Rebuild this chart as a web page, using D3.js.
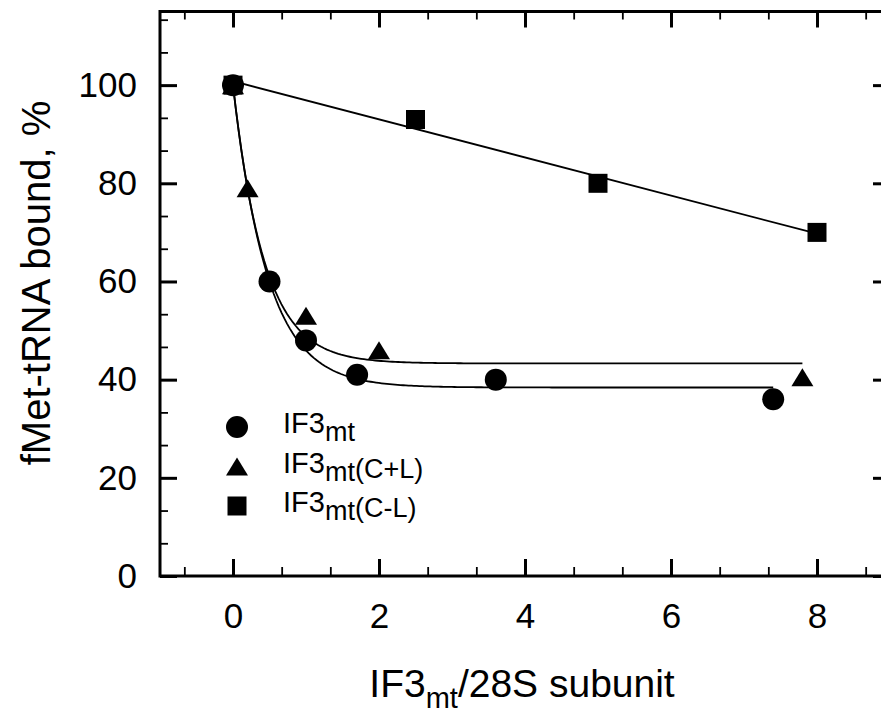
<!DOCTYPE html>
<html>
<head>
<meta charset="utf-8">
<script src="https://cdn.jsdelivr.net/npm/d3@7"></script>
<style>
    body { margin: 0; background: #fff; }
    svg { display: block; font-family: "Liberation Sans", Arial, sans-serif; }
</style>
</head>
<body>
<svg id="chart" width="881" height="713"></svg>
<script>
"use strict";
// data
const seriesNames = ["IF3mt", "IF3mt(C+L)", "IF3mt(C-L)"];
const circleX = [0, 0.5, 1, 1.7, 3.6, 7.4];
const circleY = [100, 60, 48, 41, 40, 36];
const triangleX = [0, 0.2, 1, 2, 7.8];
const triangleY = [100, 79, 53, 46, 40.5];
const squareX = [0, 2.5, 5, 8];
const squareY = [100, 93, 80, 70];
const xTicks = [0, 2, 4, 6, 8];
const yTicks = [0, 20, 40, 60, 80, 100];
// exponential decay fits  y = plateau + amp*exp(-rate*x)
const circleFit = { plateau: 38.4, amp: 61.6, rate: 2.1 };
const triangleFit = { plateau: 43.3, amp: 56.7, rate: 2.33 };

const svg = d3.select("#chart");
const x = d3.scaleLinear().domain([-1, 9]).range([160, 890]);
const y = d3.scaleLinear().domain([0, 115]).range([576, 11.5]);

const xMinor = d3.range(-1, 14).filter(i => i % 3 != 0).map(i => i * 2 / 3);
const yMinor = d3.range(1, 18).filter(i => i % 3 != 0).map(i => i * 20 / 3);

function styleTicks(g, width) {
    g.select(".domain").remove();
    g.selectAll(".tick line").attr("stroke", "#000").attr("stroke-width", width);
}

// major ticks with labels
svg.append("g").attr("transform", `translate(0,${y(0)})`)
    .call(d3.axisBottom(x).tickValues(xTicks).tickSizeInner(-17).tickSizeOuter(0).tickPadding(27))
    .call(g => styleTicks(g, 3))
    .selectAll("text").attr("font-size", 35).attr("fill", "#000").attr("font-family", null);
svg.append("g").attr("transform", `translate(${x(-1)},0)`)
    .call(d3.axisLeft(y).tickValues(yTicks).tickSizeInner(-17).tickSizeOuter(0).tickPadding(23))
    .call(g => styleTicks(g, 3))
    .selectAll("text").attr("font-size", 35).attr("fill", "#000").attr("font-family", null);
svg.append("g").attr("transform", `translate(0,${y(115)})`)
    .call(d3.axisTop(x).tickValues(xTicks).tickSizeInner(-16).tickSizeOuter(0).tickFormat(""))
    .call(g => styleTicks(g, 3));
svg.append("g").attr("transform", `translate(${x(9)},0)`)
    .call(d3.axisRight(y).tickValues(yTicks).tickSizeInner(-17).tickSizeOuter(0).tickFormat(""))
    .call(g => styleTicks(g, 3));

// minor ticks
svg.append("g").attr("transform", `translate(0,${y(0)})`)
    .call(d3.axisBottom(x).tickValues(xMinor).tickSizeInner(-9).tickSizeOuter(0).tickFormat(""))
    .call(g => styleTicks(g, 1.8));
svg.append("g").attr("transform", `translate(0,${y(115)})`)
    .call(d3.axisTop(x).tickValues(xMinor).tickSizeInner(-8).tickSizeOuter(0).tickFormat(""))
    .call(g => styleTicks(g, 1.8));
svg.append("g").attr("transform", `translate(${x(-1)},0)`)
    .call(d3.axisLeft(y).tickValues(yMinor).tickSizeInner(-8).tickSizeOuter(0).tickFormat(""))
    .call(g => styleTicks(g, 1.8));
svg.append("g").attr("transform", `translate(${x(9)},0)`)
    .call(d3.axisRight(y).tickValues(yMinor).tickSizeInner(-8).tickSizeOuter(0).tickFormat(""))
    .call(g => styleTicks(g, 1.8));

// frame
svg.append("rect")
    .attr("x", x(-1)).attr("y", y(115))
    .attr("width", x(9) - x(-1)).attr("height", y(0) - y(115))
    .attr("fill", "none").attr("stroke", "#000").attr("stroke-width", 3);

// fit lines
const line = d3.line().x(d => x(d[0])).y(d => y(d[1]));
function decayCurve(fit, xMax) {
    return d3.range(0, 201).map(i => {
        const xv = xMax * i / 200;
        return [xv, fit.plateau + fit.amp * Math.exp(-fit.rate * xv)];
    });
}
// straight least-squares line through the squares
const mx = d3.mean(squareX), my = d3.mean(squareY);
const slope = d3.sum(squareX, (v, i) => (v - mx) * (squareY[i] - my)) / d3.sum(squareX, v => (v - mx) ** 2);
const icpt = my - slope * mx;
const fitLines = [
    decayCurve(circleFit, d3.max(circleX)),
    decayCurve(triangleFit, d3.max(triangleX)),
    [[0, icpt], [d3.max(squareX), icpt + slope * d3.max(squareX)]]
];
svg.append("g").selectAll("path").data(fitLines).join("path")
    .attr("d", line)
    .attr("fill", "none").attr("stroke", "#000").attr("stroke-width", 1.8);

// marker shapes
function marker(shape) {
    if (shape == 0) return "M-11,0A11,11 0 1,0 11,0A11,11 0 1,0 -11,0Z";
    if (shape == 1) return "M0,-9L11,9L-11,9Z";
    return "M-9.5,-9.5H9.5V9.5H-9.5Z";
}
const groups = [
    { shape: 0, xs: circleX, ys: circleY },
    { shape: 1, xs: triangleX, ys: triangleY },
    { shape: 2, xs: squareX, ys: squareY }
];
// draw squares first so the shared point at 0 looks like the original
[2, 1, 0].forEach(k => {
    const s = groups[k];
    svg.append("g").selectAll("path").data(s.xs).join("path")
        .attr("transform", (d, i) => `translate(${x(d)},${y(s.ys[i])})`)
        .attr("d", marker(s.shape))
        .attr("fill", "#000");
});

// legend
const legend = svg.append("g").attr("transform", "translate(237,427)");
seriesNames.forEach((name, i) => {
    const row = legend.append("g").attr("transform", `translate(0,${i * 39.5})`);
    row.append("path").attr("d", marker(i)).attr("fill", "#000");
    const t = row.append("text").attr("x", 46).attr("y", 6).attr("font-size", 29).attr("fill", "#000");
    t.append("tspan").text(name.slice(0, 3));
    t.append("tspan").attr("dy", 8).attr("font-size", 27).text("mt");
    if (name.length > 5) {
        t.append("tspan").attr("dy", -3).attr("font-size", 27).text(name.slice(5));
    }
});

// axis titles
const xt = svg.append("text")
    .attr("x", 522).attr("y", 697)
    .attr("text-anchor", "middle").attr("font-size", 39).attr("fill", "#000");
xt.append("tspan").text("IF3");
xt.append("tspan").attr("dy", 11).attr("font-size", 29).text("mt");
xt.append("tspan").attr("dy", -11).text("/28S subunit");

svg.append("text")
    .attr("transform", "translate(50,283) rotate(-90)")
    .attr("text-anchor", "middle").attr("font-size", 40).attr("fill", "#000")
    .text("fMet-tRNA bound, %");
</script>
</body>
</html>
